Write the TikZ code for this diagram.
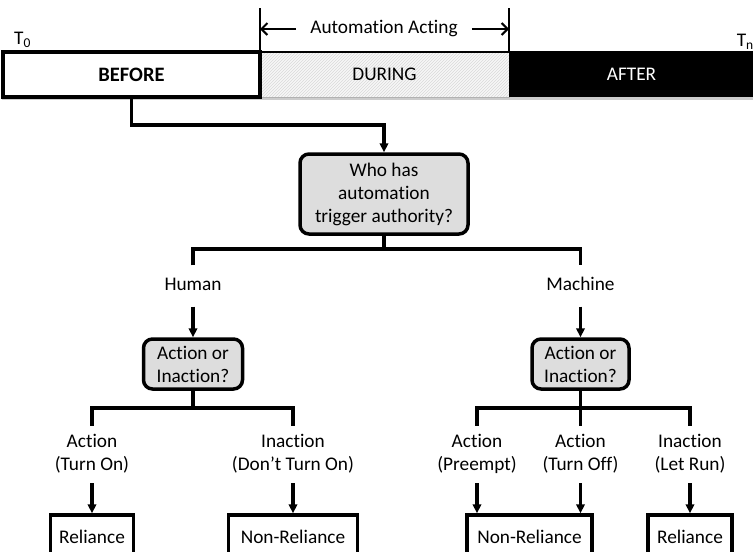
\documentclass[tikz,border=0pt]{standalone}
\usepackage{fontspec}
\setmainfont[Ligatures=NoCommon]{Carlito}
\usetikzlibrary{arrows.meta,patterns}
\begin{document}
\begin{tikzpicture}[x=1pt,y=-1pt,
  font=\fontsize{19.3}{23}\selectfont,
  conn/.style={line width=3.2pt},
  arr/.style={line width=3.2pt,-{Triangle[length=9pt,width=8.5pt]}},
  span/.style={line width=2pt,-{Straight Barb[length=6pt,width=12pt]}},
  tick/.style={line width=2pt},
  phase/.style={minimum height=45pt,inner sep=0pt,outer sep=0pt},
  question/.style={draw,line width=3.5pt,rounded corners=9pt,fill=gray!27,
    align=center,inner sep=0pt},
  outcome/.style={draw,line width=3.5pt,fill=white,inner sep=0pt,minimum height=44pt},
  lbl/.style={align=center,inner sep=0pt,minimum height=41pt},
  lbltwo/.style={align=center,inner sep=0pt,minimum height=57pt}]
\useasboundingbox (0,0) rectangle (753,552);
\clip (0,0) rectangle (753,552);

% time bar: before / during / after
\fill[gray!40] (2,56) rectangle (753,100);
\node[phase,minimum width=249pt,fill=gray!6] (during) at (384.5,74.5) {};
\fill[pattern=north east lines,pattern color=gray!30] (during.north west) rectangle (during.south east);
\draw[gray!60,line width=0.8pt] (during.north west) rectangle (during.south east);
\node[phase,minimum width=249pt] at (384.5,74.5) {DURING};
\node[phase,minimum width=245pt,fill=black,text=white] (after) at (631.5,74.5) {AFTER};
\node[phase,minimum width=257pt,draw,line width=3.5pt,fill=white,
  font=\fontsize{20.5}{23}\selectfont\bfseries] (before) at (131.5,74.5) {BEFORE};
\draw[line width=1.2pt] (during.north west) -- (after.north east);

% time marks
\node[anchor=south west,inner sep=0pt] (t0) at (14,48) {T\textsubscript{0}};
\node[anchor=south east,inner sep=0pt] (tn) at (754,50) {T\textsubscript{n}};

% automation acting interval
\coordinate (tickL) at (260,8);
\coordinate (tickR) at (509,8);
\draw[tick] (tickL) -- (tickL |- before.north);
\draw[tick] (tickR) -- (tickR |- after.north);
\node[inner ysep=0pt,inner xsep=14pt] (acting) at (384,29) {Automation Acting};
\draw[span] (acting.west) -- (acting.west -| tickL);
\draw[span] (acting.east) -- (acting.east -| tickR);

% trigger authority
\node[question,minimum width=168pt,minimum height=80pt] (who) at (384,194)
  {Who has\\automation\\trigger authority?};
\draw[arr] (before.south) -- ++(0,28) -| (who.north);

\coordinate (topj) at (384,249);
\node[lbl] (human) at (193,286) {Human\strut};
\node[lbl] (machine) at (580.5,286) {Machine\strut};
\draw[conn] (who.south) -- (topj);
\draw[conn] (human.north) |- (topj) -| (machine.north);

% human branch
\node[question,minimum width=99pt,minimum height=50pt] (qh) at (193,364)
  {Action or\\Inaction?};
\draw[arr] (human.south) -- (qh.north);
\coordinate (hj) at (193,408);
\node[lbltwo] (a1) at (92,454.5) {Action\strut\\(Turn On)\strut};
\node[lbltwo] (a2) at (293,454.5) {Inaction\strut\\(Don’t Turn On)\strut};
\draw[conn] (qh.south) -- (hj);
\draw[conn] (a1.north) |- (hj) -| (a2.north);
\node[outcome,minimum width=83pt] (r1) at (92,537) {Reliance};
\node[outcome,minimum width=129pt] (n1) at (293,537) {Non-Reliance};
\draw[arr] (a1.south) -- (r1.north);
\draw[arr] (a2.south) -- (n1.north);

% machine branch
\node[question,minimum width=97pt,minimum height=50pt] (qm) at (580.5,364)
  {Action or\\Inaction?};
\draw[arr] (machine.south) -- (qm.north);
\coordinate (mj) at (580.5,408);
\node[lbltwo] (b1) at (477,454.5) {Action\strut\\(Preempt)\strut};
\node[lbltwo] (b2) at (580.5,454.5) {Action\strut\\(Turn Off)\strut};
\node[lbltwo] (b3) at (690,454.5) {Inaction\strut\\(Let Run)\strut};
\draw[conn] (qm.south) -- (mj);
\draw[conn] (b1.north) |- (mj) -| (b3.north);
\draw[conn] (b2.north) -- (mj);
\node[outcome,minimum width=125pt] (n2) at (529.5,537) {Non-Reliance};
\node[outcome,minimum width=84pt] (r2) at (690,537) {Reliance};
\draw[arr] (b1.south) -- (b1.south |- n2.north);
\draw[arr] (b2.south) -- (b2.south |- n2.north);
\draw[arr] (b3.south) -- (r2.north);
\end{tikzpicture}
\end{document}
